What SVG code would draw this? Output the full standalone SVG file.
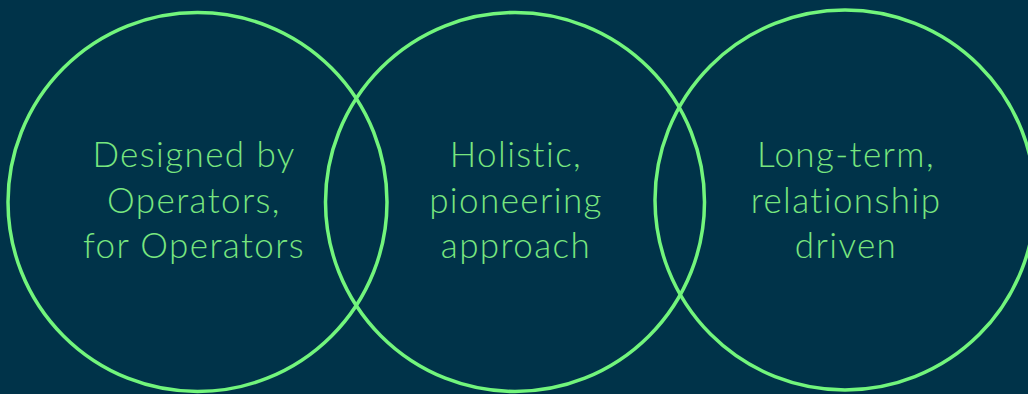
<svg xmlns="http://www.w3.org/2000/svg" width="1028" height="394" viewBox="0 0 1028 394">
<style>
.c{fill:none;stroke:#72f57c;stroke-width:3.5}
.t{font-family:Lato,"Liberation Sans",sans-serif;font-weight:300;font-size:35px;letter-spacing:1.4px;fill:#78e67f;text-anchor:middle}
</style>
<rect width="1028" height="394" fill="#003349"/>
<g id="node-operators">
<circle class="c" cx="197.5" cy="202" r="189.5"/>
<text class="t" x="194" y="167">Designed by</text>
<text class="t" x="194" y="213">Operators,</text>
<text class="t" x="194" y="258">for Operators</text>
</g>
<g id="node-holistic">
<circle class="c" cx="515" cy="202" r="189.5"/>
<text class="t" x="516" y="167">Holistic,</text>
<text class="t" x="516" y="213">pioneering</text>
<text class="t" x="516" y="258">approach</text>
</g>
<g id="node-longterm">
<circle class="c" cx="845" cy="200" r="190"/>
<text class="t" x="846" y="167">Long-term,</text>
<text class="t" x="846" y="213">relationship</text>
<text class="t" x="846" y="258">driven</text>
</g>
<g id="connectors"/>
</svg>
